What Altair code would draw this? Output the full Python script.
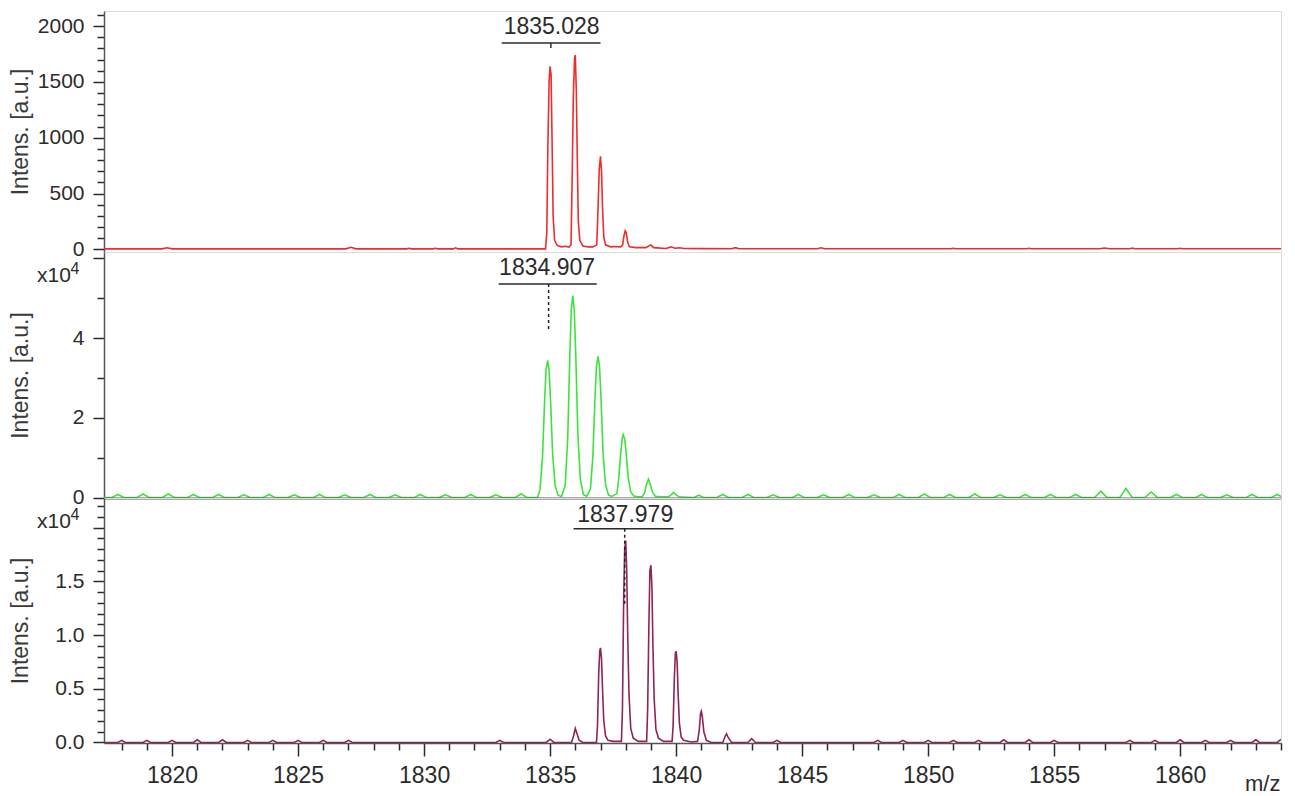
import altair as alt
import pandas as pd

FONT = "Liberation Sans"
TXT = "#2b2b2b"
FRAME = "#555555"
W = 1177
H_TOP, H_MID, H_BOT = 241, 246, 245

MZ_DOMAIN = [1817.3, 1864.0]
x_ticks = [1818, 1819, 1820, 1821, 1822, 1823, 1824, 1825, 1826, 1827, 1828, 1829,
           1830, 1831, 1832, 1833, 1834, 1835, 1836, 1837, 1838, 1839, 1840, 1841,
           1842, 1843, 1844, 1845, 1846, 1847, 1848, 1849, 1850, 1851, 1852, 1853,
           1854, 1855, 1856, 1857, 1858, 1859, 1860, 1861, 1862, 1863, 1864]

# ---------------- top spectrum (a.u.) ----------------
top_mz = [1817.3, 1819.6, 1819.8, 1820.0, 1826.9, 1827.1, 1827.3,
          1829.3, 1829.4, 1829.5, 1830.35, 1830.45, 1830.55, 1831.15, 1831.25, 1831.35,
          1834.82, 1834.87, 1834.91, 1834.96, 1835.0, 1835.04, 1835.08, 1835.12, 1835.18, 1835.28, 1835.45, 1835.6, 1835.75,
          1835.83, 1835.88, 1835.92, 1835.97, 1836.0, 1836.04, 1836.08, 1836.12, 1836.18, 1836.3, 1836.5, 1836.7,
          1836.85, 1836.9, 1836.95, 1837.0, 1837.04, 1837.08, 1837.13, 1837.2, 1837.4, 1837.6, 1837.8,
          1837.88, 1837.93, 1837.98, 1838.02, 1838.08, 1838.15, 1838.4, 1838.8, 1838.95, 1839.0, 1839.1,
          1839.6, 1839.8, 1839.95, 1840.15, 1840.3, 1841.0,
          1842.2, 1842.35, 1842.5, 1845.6, 1845.75, 1845.9, 1850.9, 1851.0, 1851.1, 1853.9, 1854.0, 1854.1,
          1856.8, 1857.0, 1857.2, 1858.0, 1858.1, 1858.2, 1859.9, 1860.0, 1860.1, 1864.0]
top_int = [4, 4, 14, 4, 4, 18, 4,
           4, 10, 4, 4, 10, 4, 4, 14, 4,
           4, 150, 900, 1500, 1640, 1560, 950, 300, 80, 35, 22, 28, 20,
           40, 700, 1350, 1710, 1740, 1420, 800, 250, 80, 30, 22, 22,
           40, 350, 720, 834, 700, 380, 110, 40, 22, 25, 22,
           40, 120, 165, 150, 60, 22, 15, 15, 35, 40, 15,
           8, 22, 10, 14, 8, 6,
           5, 15, 5, 5, 14, 5, 5, 10, 5, 5, 10, 5,
           5, 12, 5, 5, 12, 5, 5, 10, 5, 5]
top_y_ticks = [0, 100, 200, 300, 400, 500, 600, 700, 800, 900, 1000, 1100,
               1200, 1300, 1400, 1500, 1600, 1700, 1800, 1900, 2000, 2100]
top_label = ["1835.028"]
top_label_mz = [1835.06]
top_label_i = [1995]
top_bar_mz = [1833.08]
top_bar_mz2 = [1837.0]
top_bar_i = [1849]
top_tick_mz = [1835.03]
top_tick_i = [1849]
top_tick_i2 = [1804]

# ---------------- middle spectrum (x10^4 a.u.) ----------------
mid_pre_mz = [1817.3,
              1817.6, 1817.85, 1818.1, 1818.6, 1818.85, 1819.1, 1819.6, 1819.85, 1820.1,
              1820.6, 1820.85, 1821.1, 1821.6, 1821.85, 1822.1, 1822.6, 1822.85, 1823.1,
              1823.6, 1823.85, 1824.1, 1824.6, 1824.85, 1825.1, 1825.6, 1825.85, 1826.1,
              1826.6, 1826.85, 1827.1, 1827.6, 1827.85, 1828.1, 1828.6, 1828.85, 1829.1,
              1829.6, 1829.85, 1830.1, 1830.6, 1830.85, 1831.1, 1831.6, 1831.85, 1832.1,
              1832.6, 1832.85, 1833.1, 1833.6, 1833.85, 1834.1]
mid_pre_int = [0.0,
               0.0, 0.08, 0.0, 0.0, 0.09, 0.0, 0.0, 0.09, 0.0,
               0.0, 0.08, 0.0, 0.0, 0.08, 0.0, 0.0, 0.07, 0.0,
               0.0, 0.08, 0.0, 0.0, 0.07, 0.0, 0.0, 0.08, 0.0,
               0.0, 0.07, 0.0, 0.0, 0.08, 0.0, 0.0, 0.07, 0.0,
               0.0, 0.08, 0.0, 0.0, 0.07, 0.0, 0.0, 0.08, 0.0,
               0.0, 0.07, 0.0, 0.0, 0.09, 0.0]
mid_pk_mz = [1834.5, 1834.6, 1834.7, 1834.78, 1834.84, 1834.9, 1834.96, 1835.02, 1835.1, 1835.2, 1835.32, 1835.45,
             1835.6, 1835.7, 1835.78, 1835.84, 1835.9, 1835.96, 1836.02, 1836.1, 1836.2, 1836.32, 1836.45,
             1836.6, 1836.7, 1836.78, 1836.84, 1836.9, 1836.96, 1837.02, 1837.1, 1837.2, 1837.32, 1837.45,
             1837.65, 1837.72, 1837.8, 1837.86, 1837.9, 1837.96, 1838.02, 1838.1, 1838.2, 1838.32, 1838.5,
             1838.65, 1838.75, 1838.82, 1838.9, 1838.98, 1839.06, 1839.18,
             1839.45, 1839.7, 1839.8, 1839.9, 1840.0, 1840.12, 1840.4, 1840.7, 1840.9, 1841.1]
mid_pk_int = [0.0, 0.2, 1.03, 2.4, 3.2, 3.44, 3.2, 2.4, 1.1, 0.3, 0.06, 0.03,
              0.3, 1.5, 3.5, 4.7, 5.07, 4.7, 3.55, 1.6, 0.45, 0.08, 0.03,
              0.21, 1.06, 2.48, 3.3, 3.54, 3.3, 2.5, 1.13, 0.32, 0.06, 0.03,
              0.1, 0.45, 1.1, 1.47, 1.58, 1.47, 1.1, 0.5, 0.14, 0.04, 0.02,
              0.02, 0.12, 0.32, 0.46, 0.32, 0.14, 0.03,
              0.02, 0.02, 0.07, 0.13, 0.07, 0.02, 0.01, 0.0, 0.06, 0.0]
mid_post_mz = [1841.6, 1841.85, 1842.1, 1842.6, 1842.85, 1843.1, 1843.6, 1843.85, 1844.1,
               1844.6, 1844.85, 1845.1, 1845.6, 1845.85, 1846.1, 1846.6, 1846.85, 1847.1,
               1847.6, 1847.85, 1848.1, 1848.6, 1848.85, 1849.1, 1849.6, 1849.85, 1850.1,
               1850.6, 1850.85, 1851.1, 1851.6, 1851.85, 1852.1, 1852.6, 1852.85, 1853.1,
               1853.6, 1853.85, 1854.1, 1854.6, 1854.85, 1855.1, 1855.6, 1855.85, 1856.1,
               1856.6, 1856.85, 1857.1, 1857.6, 1857.85, 1858.1, 1858.6, 1858.85, 1859.1,
               1859.6, 1859.85, 1860.1, 1860.6, 1860.85, 1861.1, 1861.6, 1861.85, 1862.1,
               1862.6, 1862.85, 1863.1, 1863.6, 1863.85, 1864.1]
mid_post_int = [0.0, 0.08, 0.0, 0.0, 0.08, 0.0, 0.0, 0.07, 0.0,
                0.0, 0.08, 0.0, 0.0, 0.07, 0.0, 0.0, 0.08, 0.0,
                0.0, 0.07, 0.0, 0.0, 0.08, 0.0, 0.0, 0.09, 0.0,
                0.0, 0.08, 0.0, 0.0, 0.09, 0.0, 0.0, 0.07, 0.0,
                0.0, 0.08, 0.0, 0.0, 0.08, 0.0, 0.0, 0.08, 0.0,
                0.0, 0.16, 0.0, 0.0, 0.23, 0.0, 0.0, 0.14, 0.0,
                0.0, 0.08, 0.0, 0.0, 0.08, 0.0, 0.0, 0.07, 0.0,
                0.0, 0.08, 0.0, 0.0, 0.08, 0.0]
mid_y_ticks = [0, 1, 2, 3, 4, 5, 6]
mid_label = ["1834.907"]
mid_label_mz = [1834.88]
mid_label_i = [5.76]
mid_bar_mz = [1832.96]
mid_bar_mz2 = [1836.85]
mid_bar_i = [5.36]
mid_tick_mz = [1834.94]
mid_tick_i = [5.36]
mid_tick_i2 = [4.18]

# ---------------- bottom spectrum (x10^4 a.u.) ----------------
bot_pre_mz = [1817.3,
              1817.85, 1818.0, 1818.15, 1818.85, 1819.0, 1819.15, 1819.85, 1820.0, 1820.15,
              1820.85, 1821.0, 1821.15, 1821.85, 1822.0, 1822.15, 1822.85, 1823.0, 1823.15,
              1823.85, 1824.0, 1824.15, 1824.85, 1825.0, 1825.15, 1825.85, 1826.0, 1826.15,
              1826.85, 1827.0, 1827.15, 1832.85, 1833.0, 1833.15, 1834.85, 1835.0, 1835.15]
bot_pre_int = [0.0,
               0.0, 0.02, 0.0, 0.0, 0.02, 0.0, 0.0, 0.02, 0.0,
               0.0, 0.025, 0.0, 0.0, 0.025, 0.0, 0.0, 0.02, 0.0,
               0.0, 0.02, 0.0, 0.0, 0.02, 0.0, 0.0, 0.02, 0.0,
               0.0, 0.02, 0.0, 0.0, 0.02, 0.0, 0.0, 0.03, 0.0]
bot_pk_mz = [1835.85, 1835.93, 1836.0, 1836.07, 1836.15, 1836.3,
             1836.84, 1836.88, 1836.93, 1836.97, 1837.0, 1837.04, 1837.08, 1837.13, 1837.2, 1837.3, 1837.5,
             1837.83, 1837.87, 1837.92, 1837.96, 1838.0, 1838.04, 1838.08, 1838.13, 1838.2, 1838.3, 1838.5,
             1838.83, 1838.87, 1838.92, 1838.96, 1839.0, 1839.04, 1839.08, 1839.13, 1839.2, 1839.3, 1839.5,
             1839.84, 1839.88, 1839.93, 1839.97, 1840.0, 1840.04, 1840.08, 1840.13, 1840.2, 1840.3, 1840.6,
             1840.85, 1840.92, 1840.97, 1841.0, 1841.04, 1841.1, 1841.2, 1841.4,
             1841.85, 1841.95, 1842.0, 1842.06, 1842.2,
             1842.85, 1843.0, 1843.15, 1843.85, 1844.0, 1844.15]
bot_pk_int = [0.0, 0.06, 0.13, 0.08, 0.02, 0.0,
              0.0, 0.15, 0.65, 0.85, 0.88, 0.78, 0.5, 0.2, 0.06, 0.02, 0.01,
              0.01, 0.3, 1.35, 1.8, 1.88, 1.6, 1.0, 0.45, 0.13, 0.04, 0.01,
              0.01, 0.3, 1.1, 1.6, 1.65, 1.45, 0.9, 0.4, 0.12, 0.04, 0.01,
              0.01, 0.15, 0.6, 0.83, 0.85, 0.75, 0.45, 0.18, 0.05, 0.02, 0.005,
              0.01, 0.12, 0.27, 0.29, 0.24, 0.1, 0.02, 0.0,
              0.0, 0.06, 0.08, 0.05, 0.0,
              0.0, 0.035, 0.0, 0.0, 0.02, 0.0]
bot_post_mz = [1847.85, 1848.0, 1848.15, 1848.85, 1849.0, 1849.15, 1849.85, 1850.0, 1850.15,
               1850.85, 1851.0, 1851.15, 1851.85, 1852.0, 1852.15, 1852.85, 1853.0, 1853.15,
               1853.85, 1854.0, 1854.15, 1854.85, 1855.0, 1855.15, 1857.85, 1858.0, 1858.15,
               1858.85, 1859.0, 1859.15, 1859.85, 1860.0, 1860.15, 1860.85, 1861.0, 1861.15,
               1861.85, 1862.0, 1862.15, 1862.85, 1863.0, 1863.15, 1863.85, 1864.0]
bot_post_int = [0.0, 0.02, 0.0, 0.0, 0.02, 0.0, 0.0, 0.02, 0.0,
                0.0, 0.02, 0.0, 0.0, 0.02, 0.0, 0.0, 0.025, 0.0,
                0.0, 0.025, 0.0, 0.0, 0.02, 0.0, 0.0, 0.02, 0.0,
                0.0, 0.02, 0.0, 0.0, 0.025, 0.0, 0.0, 0.02, 0.0,
                0.0, 0.02, 0.0, 0.0, 0.025, 0.0, 0.0, 0.03]
bot_y_ticks = [0.0, 0.1, 0.2, 0.3, 0.4, 0.5, 0.6, 0.7, 0.8, 0.9, 1.0, 1.1,
               1.2, 1.3, 1.4, 1.5, 1.6, 1.7, 1.8, 1.9, 2.0, 2.1, 2.2]
bot_label = ["1837.979"]
bot_label_mz = [1837.98]
bot_label_i = [2.12]
bot_bar_mz = [1835.93]
bot_bar_mz2 = [1839.9]
bot_bar_i = [1.99]
bot_tick_mz = [1837.96]
bot_tick_i = [1.99]
bot_tick_i2 = [1.28]


def make_x(mode):
    if mode == "bottom":
        major = "datum.value % 5 === 0"
        axis = alt.Axis(values=x_ticks, format="d",
                        labelExpr="(" + major + ") ? datum.label : ''",
                        labelFontSize=23, labelBaseline="top",
                        tickSize={"condition": {"test": major, "value": 13}, "value": 7},
                        tickColor=TXT, tickWidth=1.5, domainColor=FRAME, domainWidth=1.5,
                        labelFont=FONT, labelColor=TXT, labelPadding=8,
                        labelFlush=False, labelOverlap=False, grid=False,
                        title="m/z", titleFont=FONT, titleFontSize=22, titleFontWeight="normal",
                        titleColor=TXT, titleAlign="right", titleBaseline="middle",
                        titleX=W - 1, titleY=40)
    elif mode == "domain":
        axis = alt.Axis(labels=False, ticks=False, title=None, domainColor=FRAME,
                        domainWidth=2, grid=False, zindex=1)
    else:
        axis = None
    return alt.X("mz:Q", scale=alt.Scale(domain=MZ_DOMAIN, nice=False, zero=False), axis=axis)


def make_y(domain, ticks, label_test, major_test, fmt, h):
    axis = alt.Axis(values=ticks, format=fmt,
                    labelExpr="(" + label_test + ") ? datum.label : ''",
                    labelFontSize={"condition": {"test": label_test, "value": 21}, "value": 0},
                    tickSize={"condition": {"test": major_test, "value": 11}, "value": 7},
                    tickColor=TXT, tickWidth=1.5, domainColor=FRAME, domainWidth=1.5,
                    labelFont=FONT, labelColor=TXT, labelPadding=9,
                    labelOverlap=False, grid=False,
                    title="Intens. [a.u.]", titleFont=FONT, titleFontSize=23,
                    titleFontWeight="normal", titleColor="#3a3a3a", titleAngle=270,
                    titleAlign="center", titleBaseline="middle", titleX=-84, titleY=h / 2)
    return alt.Y("i:Q", scale=alt.Scale(domain=domain, nice=False, zero=False), axis=axis)


def panel(mz, inten, color, X, Y, h, label, lmz, li, bmz, bmz2, bi, tmz, ti, ti2, dashed, exponent):
    line = alt.Chart(pd.DataFrame({"mz": mz, "i": inten})).mark_line(
        color=color, strokeWidth=1.6, clip=True).encode(x=X, y=Y)
    txt = alt.Chart(pd.DataFrame({"mz": lmz, "i": li, "t": label})).mark_text(
        font=FONT, fontSize=23, color=TXT, align="center", baseline="middle").encode(x=X, y=Y, text="t:N")
    bar = alt.Chart(pd.DataFrame({"mz": bmz, "mz2": bmz2, "i": bi})).mark_rule(
        color=TXT, strokeWidth=1.5).encode(x=X, x2="mz2:Q", y=Y)
    tick_kw = {"strokeDash": [3, 3], "color": "#222222"} if dashed else {"color": TXT}
    tick = alt.Chart(pd.DataFrame({"mz": tmz, "i": ti, "i2": ti2})).mark_rule(
        strokeWidth=1.5, **tick_kw).encode(x=X, y=Y, y2="i2:Q")
    layers = [line, txt, bar, tick]
    if exponent:
        e1 = alt.Chart(pd.DataFrame({"t": ["x10"]})).mark_text(
            font=FONT, fontSize=21, color=TXT, align="center", baseline="middle").encode(
            x=alt.value(-50), y=alt.value(24), text="t:N")
        e2 = alt.Chart(pd.DataFrame({"t": ["4"]})).mark_text(
            font=FONT, fontSize=16, color=TXT, align="center", baseline="middle").encode(
            x=alt.value(-29), y=alt.value(17), text="t:N")
        layers += [e1, e2]
    return alt.layer(*layers).properties(width=W, height=h)


top = panel(top_mz, top_int, "#f02b2b", make_x("none"),
            make_y([-24, 2135], top_y_ticks, "datum.value % 500 === 0", "datum.value % 500 === 0", "d", H_TOP),
            H_TOP, top_label, top_label_mz, top_label_i, top_bar_mz, top_bar_mz2, top_bar_i,
            top_tick_mz, top_tick_i, top_tick_i2, False, False)

mid = panel(mid_pre_mz + mid_pk_mz + mid_post_mz, mid_pre_int + mid_pk_int + mid_post_int,
            "#3ee23e", make_x("domain"),
            make_y([-0.01, 6.16], mid_y_ticks, "datum.value % 2 === 0 && datum.value < 5",
                   "datum.value % 2 === 0", "d", H_MID),
            H_MID, mid_label, mid_label_mz, mid_label_i, mid_bar_mz, mid_bar_mz2, mid_bar_i,
            mid_tick_mz, mid_tick_i, mid_tick_i2, True, True)

bot = panel(bot_pre_mz + bot_pk_mz + bot_post_mz, bot_pre_int + bot_pk_int + bot_post_int,
            "#8e2458", make_x("bottom"),
            make_y([-0.005, 2.276], bot_y_ticks,
                   "round(datum.value * 10) % 5 === 0 && datum.value < 1.9",
                   "round(datum.value * 10) % 5 === 0", ".1f", H_BOT),
            H_BOT, bot_label, bot_label_mz, bot_label_i, bot_bar_mz, bot_bar_mz2, bot_bar_i,
            bot_tick_mz, bot_tick_i, bot_tick_i2, True, True)

chart = alt.vconcat(top, mid, bot, spacing=0, bounds="flush").properties(
    padding={"left": 0, "top": 2, "right": 4, "bottom": 0}
).configure_view(stroke=FRAME, strokeWidth=1.5).configure(background="white")

chart.save("out.html", embed_options={"renderer": "svg", "actions": False})
